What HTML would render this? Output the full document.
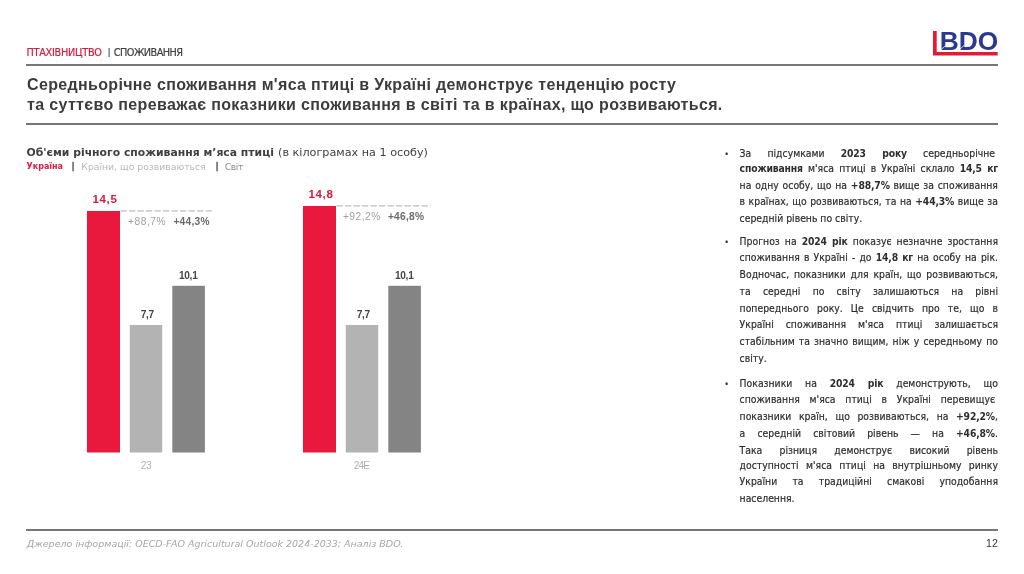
<!DOCTYPE html>
<html lang="uk">
<head>
<meta charset="utf-8">
<title>BDO</title>
<style>
html,body{margin:0;padding:0;}
body{width:1024px;height:574px;position:relative;overflow:hidden;background:#fff;font-family:"DejaVu Sans","Liberation Sans",sans-serif;color:#404040;}
.abs{position:absolute;white-space:nowrap;line-height:1;}
.rule{position:absolute;left:26px;width:972px;height:2px;background:#767676;}
#hdr{left:26.5px;top:47.7px;font-family:"DejaVu Sans Condensed","DejaVu Sans","Liberation Sans",sans-serif;font-size:10.8px;font-stretch:condensed;letter-spacing:-0.27px;color:#404040;}
#hdr span{position:absolute;top:0;-webkit-text-stroke:0.2px;}
#hdr .r{color:#d81a3c;}
#title{left:27px;top:75px;font-family:"Liberation Sans",sans-serif;font-size:16px;letter-spacing:0.345px;font-weight:bold;line-height:20.1px;color:#3c3c3c;}
#sub{left:26.5px;top:147.4px;font-size:11.2px;color:#404040;}
#sub span{position:absolute;top:0;}
#sub b{font-weight:bold;font-size:10.83px;}
#leg{left:26.5px;top:161.8px;font-size:9.28px;color:#b8b8b8;}
#leg span{position:absolute;top:0;}
#leg .u{color:#e0193d;font-weight:bold;font-stretch:condensed;font-family:"DejaVu Sans Condensed","DejaVu Sans","Liberation Sans",sans-serif;font-size:8.94px;}
#leg .s{color:#8c8c8c;}
#leg .p{color:#606060;font-weight:bold;font-size:8.6px;-webkit-text-stroke:0.45px #606060;}
.val{font-family:"Liberation Sans",sans-serif;font-size:10.1px;letter-spacing:-0.25px;font-weight:bold;color:#454545;}
.rv{font-family:"Liberation Sans",sans-serif;font-size:11.5px;letter-spacing:0.6px;font-weight:bold;color:#d9173b;}
.pl{font-family:"Liberation Sans",sans-serif;font-size:10.2px;letter-spacing:0.53px;color:#a0a0a0;}
.pd{font-family:"Liberation Sans",sans-serif;font-size:10.2px;letter-spacing:0.27px;font-weight:bold;color:#6a6a6a;}
.yr{font-family:"Liberation Sans",sans-serif;font-size:10.2px;color:#b0b0b0;}
#txt{position:absolute;left:739.6px;top:0;width:258.4px;font-family:"DejaVu Sans Condensed","DejaVu Sans","Liberation Sans",sans-serif;font-stretch:condensed;font-size:10.3px;letter-spacing:0.02px;color:#2e2e2e;-webkit-text-stroke:0.2px #2e2e2e;}
#txt .ln{position:absolute;left:0;width:258.4px;height:16.4px;line-height:16.4px;white-space:nowrap;text-align:justify;text-align-last:justify;}
#txt .ln.last{text-align:left;text-align-last:left;}
#txt .bu{position:absolute;left:-15.2px;top:1.9px;font-size:8px;}
#txt b{font-weight:bold;letter-spacing:-0.15px;-webkit-text-stroke:0;}
#foot{left:26.8px;top:538.5px;font-size:9.5px;font-style:italic;color:#a6a6a6;}
#pg{left:960px;width:37.8px;text-align:right;top:538.2px;font-family:"Liberation Sans",sans-serif;font-size:10.5px;color:#333;}
</style>
</head>
<body>
<div class="abs" id="hdr"><span class="r" style="left:0">ПТАХІВНИЦТВО</span><span style="left:81.3px;font-size:9px;top:0.8px">|</span><span style="left:87.3px;letter-spacing:-0.55px">СПОЖИВАННЯ</span></div>
<div class="rule" style="top:64px"></div>
<div class="abs" id="title">Середньорічне споживання м'яса птиці в Україні демонструє тенденцію росту<br>та суттєво переважає показники споживання в світі та в країнах, що розвиваються.</div>
<div class="rule" style="top:123px"></div>

<svg class="abs" id="logo" style="left:930px;top:28px" width="72" height="32" viewBox="0 0 72 32">
<path d="M3 3 H6.7 V24 H67.7 V27.4 H3 Z" fill="#e31b37"/>
<text x="9.7" y="21.6" font-family="Liberation Sans, sans-serif" font-weight="bold" font-size="25.6" fill="#2b3990" textLength="58.6" lengthAdjust="spacingAndGlyphs">BDO</text>
<path d="M10.6 22 L16.2 17.1 M28.9 22 L34.5 17.1" stroke="#fff" stroke-width="0.7" fill="none"/>
</svg>

<div class="abs" id="sub"><span style="left:0"><b>Об'єми річного споживання м’яса птиці</b></span><span style="left:251.6px">(в кілограмах на 1 особу)</span></div>
<div class="abs" id="leg"><span class="u" style="left:0">Україна</span><span class="p" style="left:45px">|</span><span style="left:54.8px">Країни, що розвиваються</span><span class="p" style="left:189px">|</span><span class="s" style="left:198.2px;letter-spacing:-0.4px">Світ</span></div>

<svg class="abs" style="left:0;top:180px" width="512" height="290" viewBox="0 180 512 290">
<g fill="#e8193c"><rect x="87" y="211" width="33" height="241.5"/><rect x="303" y="206" width="33" height="246.5"/></g>
<g fill="#b3b3b3"><rect x="129.8" y="325" width="32.4" height="127.5"/><rect x="345.8" y="325" width="32.4" height="127.5"/></g>
<g fill="#848484"><rect x="172.3" y="285.8" width="32.6" height="166.7"/><rect x="388.3" y="285.8" width="32.6" height="166.7"/></g>
<g stroke="#d0d0d0" stroke-width="1.8" stroke-dasharray="6.3 2.2" fill="none"><path d="M120.5 210.8 H212.4"/><path d="M336.5 205.8 H430.7"/></g>
</svg>
<!-- group 1 -->
<div class="abs rv" style="left:92.6px;top:193.8px">14,5</div>
<div class="abs val" style="left:140.7px;top:309.6px">7,7</div>
<div class="abs val" style="left:178.9px;top:270.6px">10,1</div>
<div class="abs pl" style="left:128.1px;top:217px">+88,7%</div>
<div class="abs pd" style="left:173.4px;top:217px">+44,3%</div>
<div class="abs yr" style="left:140.7px;top:460.5px;letter-spacing:-0.4px">23</div>

<!-- group 2 -->
<div class="abs rv" style="left:308.6px;top:188.8px">14,8</div>
<div class="abs val" style="left:356.7px;top:309.6px">7,7</div>
<div class="abs val" style="left:394.9px;top:270.6px">10,1</div>
<div class="abs pl" style="left:342.9px;top:212px">+92,2%</div>
<div class="abs pd" style="left:387.9px;top:212px">+46,8%</div>
<div class="abs yr" style="left:353.8px;top:460.5px;letter-spacing:-1px">24E</div>

<div id="txt">
<div class="ln" style="top:145.24px"><span class="bu">•</span>За підсумками <b>2023 року</b> середньорічне&nbsp;</div>
<div class="ln" style="top:160.24px"><b>споживання</b> м'яса птиці в Україні склало <b>14,5 кг</b></div>
<div class="ln" style="top:177.24px">на одну особу, що на <b>+88,7%</b> вище за споживання</div>
<div class="ln" style="top:193.24px">в країнах, що розвиваються, та на <b>+44,3%</b> вище за</div>
<div class="ln last" style="top:210.24px">середній рівень по світу.</div>
<div class="ln" style="top:233.24px"><span class="bu">•</span>Прогноз на <b>2024 рік</b> показує незначне зростання</div>
<div class="ln" style="top:249.24px">споживання в Україні - до <b>14,8 кг</b> на особу на рік.</div>
<div class="ln" style="top:266.24px">Водночас, показники для країн, що розвиваються,</div>
<div class="ln" style="top:283.24px">та середні по світу залишаються на рівні</div>
<div class="ln" style="top:300.24px">попереднього року. Це свідчить про те, що в</div>
<div class="ln" style="top:316.24px">Україні споживання м'яса птиці залишається</div>
<div class="ln" style="top:333.24px">стабільним та значно вищим, ніж у середньому по</div>
<div class="ln last" style="top:350.24px">світу.</div>
<div class="ln" style="top:375.24px"><span class="bu">•</span>Показники на <b>2024 рік</b> демонструють, що</div>
<div class="ln" style="top:391.24px">споживання м'яса птиці в Україні перевищує&nbsp;</div>
<div class="ln" style="top:408.24px">показники країн, що розвиваються, на <b>+92,2%</b>,</div>
<div class="ln" style="top:425.24px">а середній світовий рівень — на <b>+46,8%</b>.</div>
<div class="ln" style="top:442.24px">Така різниця демонструє високий рівень</div>
<div class="ln" style="top:457.24px">доступності м'яса птиці на внутрішньому ринку</div>
<div class="ln" style="top:473.24px">України та традиційні смакові уподобання</div>
<div class="ln last" style="top:490.24px">населення.</div>
</div>

<div class="rule" style="top:529px"></div>
<div class="abs" id="foot">Джерело інформації: OECD-FAO Agricultural Outlook 2024-2033; Аналіз BDO.</div>
<div class="abs" id="pg">12</div>
</body>
</html>
